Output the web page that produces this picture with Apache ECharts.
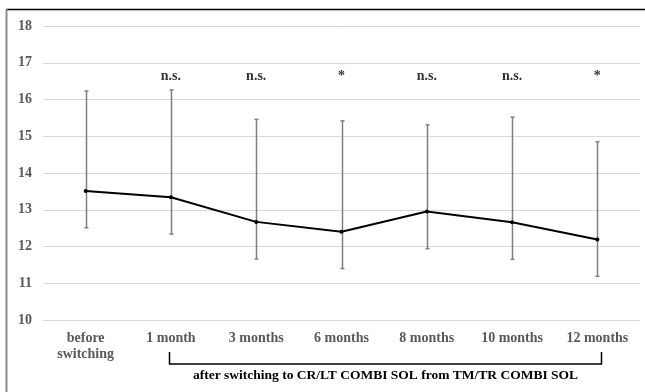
<!DOCTYPE html>
<html><head><meta charset="utf-8">
<script src="https://cdn.jsdelivr.net/npm/echarts@6/dist/echarts.min.js"></script>
<style>html,body{margin:0;padding:0;background:#fff}#c{width:645px;height:392px}</style>
</head><body><div id="c"></div>
<script>
const categories = ['before\nswitching', '1 month', '3 months', '6 months', '8 months', '10 months', '12 months'];
const meanValues = [13.51, 13.34, 12.67, 12.40, 12.95, 12.66, 12.19];
const upperValues = [16.23, 16.26, 15.46, 15.42, 15.31, 15.52, 14.85];
const lowerValues = [12.51, 12.34, 11.66, 11.40, 11.94, 11.65, 11.19];
const significance = ['', 'n.s.', 'n.s.', '*', 'n.s.', 'n.s.', '*'];
const sigLevel = 16.64;
const bracketText = 'after switching to CR/LT COMBI SOL from TM/TR COMBI SOL';
const yMin = 10, yMax = 18, yStep = 1;

const font = '"Liberation Serif", "Times New Roman", serif';
const chart = echarts.init(document.getElementById('c'), null, {renderer: 'canvas'});
const option = {
  animation: false,
  backgroundColor: '#fff',
  grid: {left: 43, right: 5, top: 26, bottom: 72, containLabel: false},
  xAxis: {
    type: 'category', data: categories, boundaryGap: true,
    axisLine: {show: false}, axisTick: {show: false},
    axisLabel: {color: '#595959', fontFamily: font, fontWeight: 'bold', fontSize: 14, margin: 10, lineHeight: 16, interval: 0}
  },
  yAxis: {
    type: 'value', min: yMin, max: yMax, interval: yStep,
    axisLine: {show: false}, axisTick: {show: false},
    axisLabel: {color: '#595959', fontFamily: font, fontWeight: 'bold', fontSize: 14, margin: 11},
    splitLine: {lineStyle: {color: '#d9d9d9', width: 1}}
  },
  series: [
    {
      type: 'custom', z: 2,
      data: categories.map((c, i) => [i, lowerValues[i], upperValues[i]]),
      renderItem: function (params, api) {
        const lo = api.coord([api.value(0), api.value(1)]);
        const hi = api.coord([api.value(0), api.value(2)]);
        const x = Math.round(lo[0]) + 0.5;
        const st = {stroke: '#7f7f7f', lineWidth: 1.5};
        return {type: 'group', children: [
          {type: 'line', shape: {x1: x, y1: lo[1], x2: x, y2: hi[1]}, style: st},
          {type: 'line', shape: {x1: x - 2, y1: lo[1], x2: x + 2, y2: lo[1]}, style: st},
          {type: 'line', shape: {x1: x - 2, y1: hi[1], x2: x + 2, y2: hi[1]}, style: st}
        ]};
      }
    },
    {
      type: 'line', data: meanValues, z: 3,
      lineStyle: {color: '#000', width: 2},
      itemStyle: {color: '#000'},
      symbol: 'circle', symbolSize: 4
    },
    {
      type: 'scatter', z: 4, symbolSize: 0,
      data: significance.map((s, i) => ({value: [i, sigLevel], label: {formatter: s}})),
      label: {show: true, position: 'inside', color: '#000', fontFamily: font, fontWeight: 'bold', fontSize: 14}
    }
  ]
};
chart.setOption(option);

const p1 = chart.convertToPixel({xAxisIndex: 0, yAxisIndex: 0}, [1, yMin]);
const p2 = chart.convertToPixel({xAxisIndex: 0, yAxisIndex: 0}, [categories.length - 1, yMin]);
const bx1 = Math.round(p1[0]) - 1.5, bx2 = Math.round(p2[0]) + 4.5;
const by = p1[1] + 44, byTop = p1[1] + 32;
chart.setOption({
  graphic: [
    {type: 'line', shape: {x1: 6, y1: 9.5, x2: 645, y2: 9.5}, style: {stroke: '#000', lineWidth: 1.5}},
    {type: 'line', shape: {x1: 6.5, y1: 9, x2: 6.5, y2: 392}, style: {stroke: '#8c8c8c', lineWidth: 2}},
    {type: 'polyline', shape: {points: [[bx1, byTop], [bx1, by], [bx2, by], [bx2, byTop]]}, style: {stroke: '#000', lineWidth: 1.5, fill: null}},
    {type: 'text', x: (bx1 + bx2) / 2, y: by + 12, style: {text: bracketText, font: 'bold 13.5px ' + font, fill: '#000', textAlign: 'center', textVerticalAlign: 'middle'}}
  ]
});
</script></body></html>
